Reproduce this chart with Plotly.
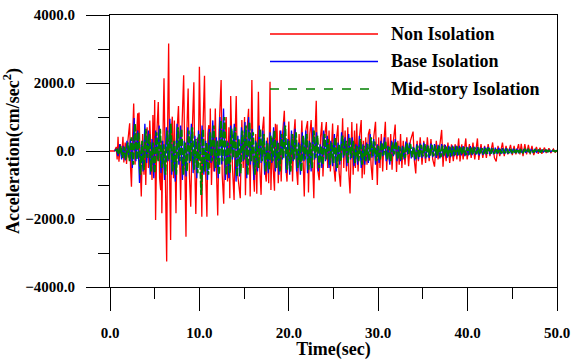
import numpy as np
import plotly.graph_objects as go

# ---------------- data ----------------
series_names = ["Non Isolation", "Base Isolation", "Mid-story Isolation"]
y_ticks = [-4000, -2000, 0, 2000, 4000]
x_ticks = [0, 10, 20, 30, 40, 50]

# Non isolation: turning points (time, acceleration)
red_t = [0.0, 0.5, 0.7, 0.8, 0.9, 1.0, 1.15, 1.3, 1.45, 1.55, 1.7, 1.85, 2.0, 2.2, 2.3, 2.4, 2.55, 2.65,
         2.8, 2.95, 3.1, 3.2, 3.25, 3.4, 3.5, 3.65, 3.8, 3.9, 4.0, 4.15, 4.3, 4.45, 4.6, 4.7, 4.8, 4.9,
         5.0, 5.1, 5.25, 5.4, 5.55, 5.67, 5.75, 5.8, 5.95, 6.04, 6.2, 6.34, 6.45, 6.56, 6.68, 6.78,
         6.88, 6.97, 7.1, 7.2, 7.38, 7.5, 7.66, 7.8, 7.9, 8.05, 8.24, 8.38, 8.5, 8.6, 8.74, 8.88, 9.03,
         9.2, 9.38, 9.48, 9.6, 9.78, 9.88, 10.0, 10.14, 10.27, 10.4, 10.57, 10.7, 10.84, 10.95, 11.05,
         11.15, 11.22, 11.35, 11.5, 11.62, 11.78, 11.9, 12.05, 12.2, 12.43, 12.55, 12.72, 12.85, 13.0,
         13.15, 13.3, 13.4, 13.5, 13.7, 13.88, 14.0, 14.12, 14.25, 14.4, 14.57, 14.75, 14.9, 15.05,
         15.15, 15.3, 15.5, 15.68, 15.87, 16.0, 16.15, 16.3, 16.42, 16.6, 16.75, 16.9, 17.05, 17.2,
         17.35, 17.48, 17.6, 17.75, 17.9, 18.0, 18.15, 18.25, 18.4, 18.5, 18.6, 18.68, 18.82, 19.0,
         19.15, 19.3, 19.5, 19.65, 19.8, 20.0, 20.15, 20.3, 20.42, 20.55, 20.7, 20.85, 21.0, 21.15,
         21.3, 21.46, 21.6, 21.73, 21.9, 22.1, 22.2, 22.35, 22.5, 22.65, 22.8, 22.95, 23.07, 23.2,
         23.4, 23.55, 23.7, 23.82, 24.0, 24.2, 24.35, 24.5, 24.65, 24.9, 25.05, 25.2, 25.35, 25.5,
         25.62, 25.78, 25.9, 26.02, 26.15, 26.3, 26.45, 26.6, 26.72, 26.85, 27.05, 27.2, 27.35, 27.45,
         27.6, 27.75, 27.9, 28.1, 28.2, 28.35, 28.45, 28.6, 28.75, 28.9, 29.05, 29.2, 29.35, 29.5,
         29.7, 29.9, 30.05, 30.2, 30.35, 30.5, 30.65, 30.8, 30.95, 31.1, 31.25, 31.4, 31.55, 31.7,
         31.9, 32.05, 32.2, 32.35, 32.5, 32.65, 32.8, 33.0, 33.2, 33.4, 33.6, 33.9, 34.05, 34.2,
         34.35, 34.5, 34.7, 34.9, 35.1, 35.3, 35.5, 35.7, 35.9, 36.1, 36.3, 36.5, 36.7, 36.9, 37.1,
         37.25, 37.4, 37.6, 37.8, 38.0, 38.2, 38.4, 38.6, 38.8, 39.0, 39.15, 39.35, 39.5, 39.8, 39.95,
         40.2, 40.4, 40.6, 40.8, 41.1, 41.25, 41.5, 41.7, 41.9, 42.1, 42.3, 42.5, 42.8, 43.0, 43.2,
         43.4, 43.6, 43.9, 44.1, 44.3, 44.5, 44.8, 45.0, 45.2, 45.4, 45.7, 45.85, 46.0, 46.2, 46.4,
         46.6, 46.8, 47.0, 47.2, 47.4, 47.7, 47.9, 48.1, 48.3, 48.6, 48.8, 49.1, 49.3, 49.6, 49.8, 50.0]
red_v = [0, 0, 120, -250, 420, -315, 200, -150, 420, -340, 250, -380, 300, 815, -500, -1050, 600, 1400,
         -400, 500, 1110, -300, 1130, -600, -1340, 500, -700, 600, -1000, 700, -500, 900, -600, -850, 1060, -400,
         1500, -2030, 600, 1440, -800, -1150, 300, -1830, 800, 2140, -900, -3250, 800, 3165, -900, -2620,
         700, 1010, -800, 900, -1830, 600, 1320, -700, -1440, 700, 2230, -600, -2520, 600, 1840, -700, -1640,
         600, 2020, -400, -1850, 400, -300, 2480, -800, -1930, 700, 2210, -700, -1930, 500, 760,
         -500, 1250, -1000, 400, -600, 1250, -500, -1900, 600, 2090, -700, -1550, 500, 1000,
         -900, 700, -1390, 1620, -500, -1440, 500, 1620, -600, -1100, -1390, 910, -500, 1000,
         -1300, 500, 1240, -1340, 2090, -400, -1200, 500, -1260, 1740, -500, -1290, 600, 1010,
         -600, -900, 400, -950, 2040, -1150, 400, -500, -1170, 800, -300, 780, -950, 600,
         -900, 500, 1180, -400, -900, 870, -600, 500, -900, 400, 930, -500, -1000, 500,
         -400, 900, -600, -1340, 600, 880, -1220, 500, 910, -600, -1390, 600, 1480, -500,
         -860, 400, 850, -750, 400, 850, -500, 600, -600, 810, -500, -900, 400, 760,
         -600, -1050, 500, 960, -500, 600, -600, 700, -700, -1250, 850, -700, 600, -500,
         810, -600, 400, 910, -800, 300, -690, 400, -400, 500, 650, -400, -850, 400,
         860, -1000, 400, -500, 500, -600, 300, 860, -560, 400, -300, 500, -550, 300,
         780, -620, 300, -400, 500, -500, 300, -400, 400, -450, 300, 570, -300, -660,
         300, -300, 400, -400, 300, -350, 400, -300, 350, -250, -460, 300, -250, 270, 620,
         -460, 200, -300, 250, -350, 200, -300, 200, -250, 370, -310, 200, -250, 370, -250,
         200, -200, 250, -250, 370, -265, 200, -200, 150, -200, 200, -150, 250, -200, -310,
         150, -150, 245, -150, 150, -100, 180, -120, 150, -100, 200, -100, 210, -150, 200,
         -100, 180, -100, 150, -120, 120, -80, 100, -80, 100, -60, 80, -60, 60, -40, 0]

# Base isolation: sampled every 0.2 s starting at 0.5 s
blue_t0, blue_dt = 0.5, 0.2
blue_v = [0, 60, -150, 200, -250, 150, -280, 300, -200, 350,
          -500, 970, -300, 600, -940, 200, -600, 800, -350, 600,
          -700, 350, -800, 600, -250, 750, -650, 300, -850, 700,
          -300, 950, -700, 250, -900, 800, -400, 750, -850, 300,
          -750, 700, -350, 800, -650, 450, -800, 600, -300, 750,
          -700, 300, -850, 650, -350, 900, -600, 400, -800, 1000,
          -400, 1250, -850, 300, -800, 750, -250, 800, -900, 450,
          -750, 700, -300, 850, -800, 1000, -400, 650, -850, 300,
          -600, 750, -350, 600, -700, 300, -650, 550, -350, 700,
          -600, 300, -700, 600, -250, 860, -650, 350, -700, 600,
          -300, 650, -600, 250, -700, 550, -300, 600, -650, 300,
          -600, 700, -250, 550, -600, 200, -500, 600, -300, 450,
          -500, 300, -450, 500, -600, 250, -400, 550, -200, 400,
          -450, 500, -250, 400, -450, 200, -400, 450, -500, 200,
          -400, 250, -350, 500, -200, 350, -400, 200, -350, 300,
          -150, 400, -300, 150, -400, 300, -150, 350, -300, 150,
          -300, 150, -250, 280, -100, 250, -220, 120, -280, 200,
          -250, 220, -200, 250, -220, 180, -200, 220, -180, 200,
          -200, 180, -220, 200, -160, 180, -200, 150, -180, 160,
          -150, 160, -140, 150, -130, 140, -150, 120, -130, 140,
          -120, 130, -110, 120, -130, 100, -110, 120, -100, 110,
          -100, 90, -100, 100, -80, 90, -90, 80, -85, 80,
          -80, 70, -75, 70, -60, 70, -65, 60, -55, 60,
          -50, 55, -50, 45, -40, 45, -40, 35, -35, 30,
          -30, 30, -25, 25, -20, 20, -15, 15, -10, 0]

# Mid-story isolation: sampled every 0.2 s starting at 0.6 s
green_t0, green_dt = 0.6, 0.2
green_v = [0, 40, -100, 150, -200, 120, -250, 250, -300, 400,
           -400, 800, -250, 550, -700, 300, -550, 650, -200, 500,
           -600, 250, -650, 550, -300, 650, -500, 200, -700, 600,
           -250, 800, -600, 300, -700, 700, -300, 650, -700, 250,
           -600, 600, -300, 700, -550, 350, -650, 500, -1290, 650,
           -600, 250, -700, 550, -300, 750, -500, 300, -700, 900,
           -300, 1000, -700, 250, -650, 650, -200, 700, -750, 350,
           -650, 600, -250, 750, -700, 850, -300, 550, -700, 250,
           -500, 650, -300, 500, -600, 250, -550, 450, -300, 600,
           -500, 250, -600, 500, -200, 750, -550, 300, -600, 500,
           -250, 550, -500, 200, -600, 450, -250, 500, -550, 250,
           -500, 600, -200, 450, -500, 150, -400, 500, -250, 350,
           -400, 250, -350, 400, -500, 200, -300, 450, -150, 300,
           -350, 400, -200, 300, -350, 150, -300, 350, -400, 150,
           -300, 200, -280, 400, -150, 280, -300, 150, -280, 250,
           -120, 300, -250, 120, -300, 250, -100, 280, -250, 120,
           -250, 120, -200, 230, -80, 200, -180, 100, -230, 160,
           -200, 180, -160, 200, -180, 150, -160, 180, -150, 160,
           -160, 150, -180, 160, -130, 150, -160, 120, -150, 130,
           -120, 130, -110, 120, -100, 110, -120, 100, -100, 110,
           -100, 100, -90, 100, -100, 80, -90, 100, -80, 90,
           -80, 70, -80, 80, -60, 70, -70, 60, -65, 60,
           -60, 55, -60, 55, -50, 55, -50, 45, -45, 45,
           -40, 40, -40, 35, -30, 35, -30, 25, -25, 20,
           -20, 20, -15, 15, -10, 10, -10, 8, -5, 0]

blue_t = np.round(blue_t0 + blue_dt * np.arange(len(blue_v)), 3)
green_t = np.round(green_t0 + green_dt * np.arange(len(green_v)), 3)

# ---------------- figure ----------------
FONT = "Liberation Serif"
colors = ["#FF0000", "#0000FF", "#008000"]

W, H = 571, 360
L, R, T, B = 110, 557, 15, 287

fig = go.Figure()
fig.add_trace(go.Scatter(x=red_t, y=red_v, mode="lines", name=series_names[0],
                         line=dict(color=colors[0], width=1.3), showlegend=False))
fig.add_trace(go.Scatter(x=blue_t, y=blue_v, mode="lines", name=series_names[1],
                         line=dict(color=colors[1], width=1.3), showlegend=False))
fig.add_trace(go.Scatter(x=green_t, y=green_v, mode="lines", name=series_names[2],
                         line=dict(color=colors[2], width=2.0, dash="7px,2px"), showlegend=False))

# manual legend (long line samples as in the reference); positions in page pixels
def px(x): return (x - L) / (R - L)
def py(y): return (B - y) / (B - T)
legend_rows = [34, 61.5, 89]
dashes = ["solid", "solid", "dash"]
for name, col, yy, d in zip(series_names, colors, legend_rows, dashes):
    fig.add_shape(type="line", xref="paper", yref="paper", x0=px(270), x1=px(378), y0=py(yy), y1=py(yy),
                  line=dict(color=col, width=1.3, dash=d))
    fig.add_annotation(xref="paper", yref="paper", x=px(389), y=py(yy), text="<b>%s</b>" % name,
                       showarrow=False, xanchor="left", yanchor="middle",
                       font=dict(family=FONT, size=18, color="black"))

tickfont = dict(family=FONT, size=15, color="black", weight="bold")

fig.update_xaxes(range=[0, 50], tickmode="linear", tick0=0, dtick=10, tickformat=".1f",
                 showline=True, linecolor="black", linewidth=1, mirror=True,
                 ticks="outside", ticklen=23, tickwidth=1, tickcolor="black",
                 showgrid=False, zeroline=False, automargin=False, tickfont=tickfont,
                 ticklabelstandoff=9, ticklabeloverflow="allow",
                 minor=dict(ticks="outside", ticklen=11, tickwidth=1, dtick=5, tick0=0,
                            tickcolor="black", showgrid=False),
                 title=dict(text="<b>Time(sec)</b>", font=dict(family=FONT, size=18, color="black"),
                            standoff=0))
fig.update_yaxes(range=[-4000, 4000], tickmode="linear", tick0=0, dtick=2000, tickformat=".1f",
                 showline=True, linecolor="black", linewidth=1, mirror=True,
                 ticks="outside", ticklen=23, tickwidth=1, tickcolor="black",
                 showgrid=False, zeroline=False, automargin=False, tickfont=tickfont,
                 ticklabelstandoff=8, ticklabeloverflow="allow",
                 minor=dict(ticks="outside", ticklen=11, tickwidth=1, dtick=1000, tick0=0,
                            tickcolor="black", showgrid=False),
                 title=dict(text="<b>Acceleration(cm/sec<sup>2</sup>)</b>",
                            font=dict(family=FONT, size=18, color="black"), standoff=2))

fig.update_layout(width=W, height=H, margin=dict(l=L, r=W - R, t=T, b=H - B, autoexpand=False),
                  plot_bgcolor="white", paper_bgcolor="white", showlegend=False)

# remove the default 8px page margin so the 571x360 figure fills the window exactly
fig.write_html("out.html", config={"displayModeBar": False},
               post_script="document.body.style.margin='0';document.body.style.overflow='hidden';")
